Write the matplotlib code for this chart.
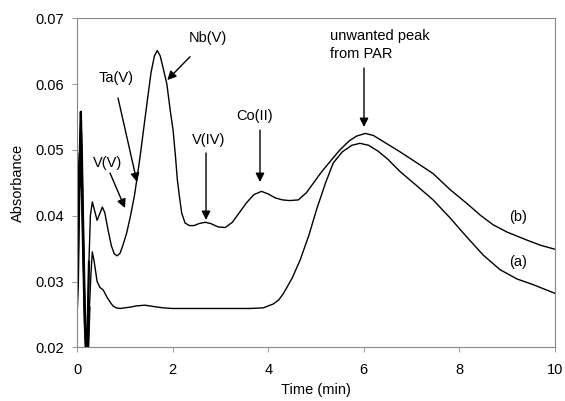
import matplotlib
matplotlib.use("Agg")
import matplotlib.pyplot as plt

# ---- data ----
t_b = [0.00, 0.03, 0.06, 0.08, 0.10, 0.13, 0.16, 0.19, 0.22, 0.25, 0.28, 0.32, 0.36, 0.42,
       0.47, 0.53, 0.58, 0.65, 0.72, 0.78, 0.84, 0.90, 0.96, 1.04, 1.12, 1.20, 1.25, 1.32,
       1.40, 1.48, 1.55, 1.62, 1.68, 1.74, 1.80, 1.88, 1.95, 2.01, 2.06, 2.10, 2.15, 2.19,
       2.26, 2.35, 2.45, 2.55, 2.68, 2.80, 2.95, 3.10, 3.25, 3.40, 3.55, 3.70, 3.86, 4.00,
       4.15, 4.30, 4.45, 4.63, 4.80, 4.94, 5.10, 5.29, 5.50, 5.70, 5.85, 6.03, 6.20, 6.40,
       6.76, 6.97, 7.20, 7.45, 7.80, 8.15, 8.45, 8.71, 9.00, 9.41, 9.70, 10.0]
abs_b = [0.0330, 0.0450, 0.0500, 0.0558, 0.0500, 0.0380, 0.0270, 0.0190, 0.0220, 0.0330,
         0.0400, 0.0421, 0.0410, 0.0393, 0.0402, 0.0413, 0.0405, 0.0378, 0.0354, 0.0342,
         0.0339, 0.0343, 0.0355, 0.0374, 0.0400, 0.0430, 0.0454, 0.0490, 0.0535, 0.0580,
         0.0618, 0.0643, 0.0651, 0.0643, 0.0625, 0.0600, 0.0560, 0.0530, 0.0490, 0.0454,
         0.0425, 0.0404, 0.0389, 0.0385, 0.0385, 0.0388, 0.0390, 0.0388, 0.0383, 0.0382,
         0.0390, 0.0405, 0.0420, 0.0432, 0.0437, 0.0433, 0.0427, 0.0424, 0.0423, 0.0424,
         0.0435, 0.0449, 0.0465, 0.0482, 0.0500, 0.0514, 0.0521, 0.0525, 0.0522, 0.0513,
         0.0497, 0.0487, 0.0476, 0.0464, 0.0440, 0.0419, 0.0400, 0.0386, 0.0375, 0.0363,
         0.0355, 0.0349]

t_a = [0.00, 0.02, 0.04, 0.06, 0.08, 0.10, 0.13, 0.16, 0.19, 0.23, 0.26, 0.29, 0.32, 0.36,
       0.42, 0.48, 0.55, 0.62, 0.69, 0.75, 0.82, 0.90, 1.00, 1.11, 1.25, 1.42, 1.60, 1.80,
       2.00, 2.50, 3.00, 3.62, 3.90, 4.11, 4.22, 4.32, 4.50, 4.67, 4.85, 5.01, 5.20, 5.36,
       5.55, 5.75, 5.92, 6.10, 6.30, 6.50, 6.76, 7.10, 7.45, 7.80, 8.15, 8.50, 8.85, 9.20,
       9.55, 10.0]
abs_a = [0.0260, 0.0300, 0.0400, 0.0495, 0.0480, 0.0440, 0.0340, 0.0240, 0.0190, 0.0190,
         0.0260, 0.0310, 0.0345, 0.0330, 0.0300, 0.0291, 0.0287, 0.0277, 0.0269, 0.0263,
         0.0260, 0.0259, 0.0260, 0.0261, 0.0263, 0.0264, 0.0262, 0.0260, 0.0259, 0.0259,
         0.0259, 0.0259, 0.0260, 0.0266, 0.0272, 0.0282, 0.0305, 0.0333, 0.0370, 0.0409,
         0.0450, 0.0480, 0.0497, 0.0507, 0.0510, 0.0507, 0.0498, 0.0486, 0.0467, 0.0446,
         0.0424, 0.0397, 0.0368, 0.0340, 0.0318, 0.0304, 0.0295, 0.0282]

x_ticks = [0, 2, 4, 6, 8, 10]
y_ticks = [0.02, 0.03, 0.04, 0.05, 0.06, 0.07]
y_tick_labels = ["0.02", "0.03", "0.04", "0.05", "0.06", "0.07"]

# annotations: label, text position, arrow start, arrow tip
peak_labels = ["Nb(V)", "Ta(V)", "V(V)", "V(IV)", "Co(II)"]
label_pos = [(2.741, 0.0670), (0.816, 0.06093), (0.649, 0.04801), (2.762, 0.0515), (3.724, 0.05515)]
arrow_from = [(2.364, 0.06416), (0.858, 0.05789), (0.690, 0.04649), (2.699, 0.04953), (3.828, 0.05301)]
arrow_to = [(1.889, 0.06062), (1.255, 0.04512), (1.004, 0.04117), (2.699, 0.03935), (3.828, 0.04512)]

plt.rcParams['font.family'] = ['Liberation Sans', 'DejaVu Sans']

fig = plt.figure(figsize=(5.65, 4.01), dpi=100)
ax = fig.add_axes([0.1363, 0.1339, 0.846, 0.8205])

ax.plot(t_b, abs_b, color='black', lw=1.0)
ax.plot(t_a, abs_a, color='black', lw=1.0)
# thicker early spike region
ax.plot(t_b[:10], abs_b[:10], color='black', lw=1.6)
ax.plot(t_a[:11], abs_a[:11], color='black', lw=1.6)

ax.set_xlim(0, 10)
ax.set_ylim(0.02, 0.07)
ax.set_xticks(x_ticks)
ax.set_xticklabels([str(v) for v in x_ticks])
ax.set_yticks(y_ticks)
ax.set_yticklabels(y_tick_labels)
ax.tick_params(axis='both', direction='out', length=3.5, width=0.6, color='#888888',
               labelsize=10.5, pad=6)
ax.tick_params(axis='x', pad=8)

for s in ax.spines.values():
    s.set_linestyle((0, (1, 1)))
    s.set_color('#888888')
    s.set_linewidth(0.8)

ax.set_xlabel("Time (min)", fontsize=10.5, labelpad=4)
ax.set_ylabel("Absorbance", fontsize=10.5, labelpad=7)

fs = 10.5
for lab, tp, af, at in zip(peak_labels, label_pos, arrow_from, arrow_to):
    ax.text(tp[0], tp[1], lab, ha='center', va='center', fontsize=fs)
    ax.annotate("", xy=at, xytext=af,
                arrowprops=dict(arrowstyle='-|>', color='black', lw=1.0,
                                mutation_scale=13, shrinkA=0, shrinkB=0))

ax.text(5.293, 0.0683, "unwanted peak\nfrom PAR", ha='left', va='top', fontsize=fs,
        linespacing=1.3)
ax.annotate("", xy=(6.004, 0.05348), xytext=(6.004, 0.06244),
            arrowprops=dict(arrowstyle='-|>', color='black', lw=1.0,
                            mutation_scale=13, shrinkA=0, shrinkB=0))

ax.text(9.226, 0.0398, "(b)", ha='center', va='center', fontsize=fs)
ax.text(9.226, 0.03296, "(a)", ha='center', va='center', fontsize=fs)

fig.savefig("out.png", dpi=100)
